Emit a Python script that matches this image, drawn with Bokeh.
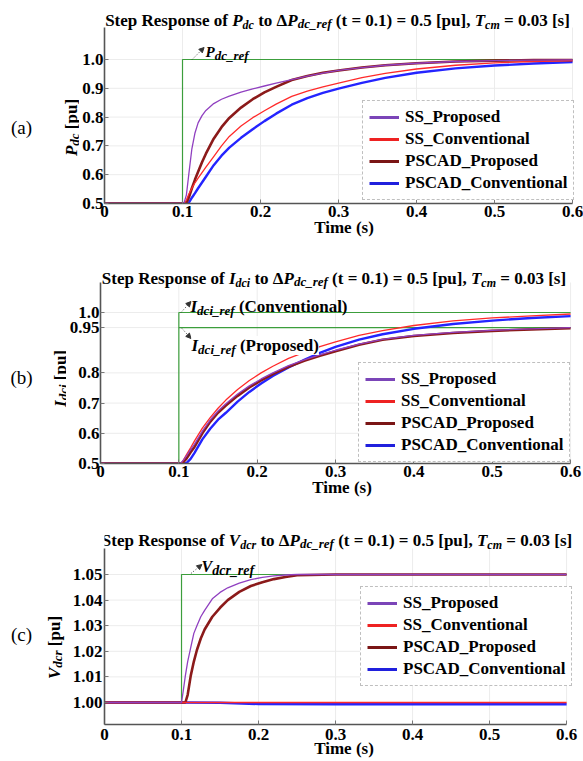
import math
from bokeh.plotting import figure
from bokeh.models import Label, Legend, LegendItem, FixedTicker, Arrow, NormalHead, Range1d
from bokeh.layouts import column, row
from bokeh.embed import file_html
from bokeh.resources import INLINE

# ---------------- data ----------------
series_names = ["SS_Proposed", "SS_Conventional", "PSCAD_Proposed", "PSCAD_Conventional"]
x_ticks = [0, 0.1, 0.2, 0.3, 0.4, 0.5, 0.6]
x_tick_labels = ["0", "0.1", "0.2", "0.3", "0.4", "0.5", "0.6"]

# (a) Pdc
a_y_ticks = [0.5, 0.6, 0.7, 0.8, 0.9, 1.0]
a_y_tick_labels = ["0.5", "0.6", "0.7", "0.8", "0.9", "1.0"]
a_ref_t = [0, 0.1, 0.1, 0.6]
a_ref_v = [0.5, 0.5, 1.0, 1.0]
a_t = [0, 0.1, 0.102, 0.105, 0.108, 0.112, 0.116, 0.12, 0.125, 0.13, 0.14, 0.15, 0.16,
       0.175, 0.19, 0.205, 0.22, 0.24, 0.26, 0.28, 0.30, 0.33, 0.36, 0.40, 0.45, 0.50, 0.55, 0.60]
a_ss_prop = [0.5, 0.5, 0.502, 0.53, 0.60, 0.69, 0.745, 0.78, 0.805, 0.823, 0.847, 0.862, 0.873,
             0.887, 0.898, 0.908, 0.918, 0.93, 0.942, 0.953, 0.962, 0.972, 0.98, 0.987, 0.993, 0.996, 0.998, 0.999]
a_ss_conv = [0.5, 0.5, 0.5, 0.512, 0.532, 0.553, 0.572, 0.588, 0.607, 0.626, 0.663, 0.700, 0.733,
             0.769, 0.798, 0.822, 0.845, 0.872, 0.89, 0.905, 0.918, 0.937, 0.952, 0.967, 0.98, 0.988, 0.993, 0.996]
a_pscad_prop = [0.5, 0.5, 0.5, 0.502, 0.52, 0.553, 0.583, 0.61, 0.643, 0.673, 0.725, 0.765, 0.797,
                0.833, 0.862, 0.886, 0.905, 0.929, 0.943, 0.954, 0.962, 0.972, 0.98, 0.987, 0.993, 0.996, 0.998, 0.998]
a_pscad_conv = [0.5, 0.5, 0.5, 0.5, 0.502, 0.52, 0.536, 0.553, 0.573, 0.593, 0.633, 0.666, 0.694,
                0.728, 0.758, 0.786, 0.812, 0.843, 0.866, 0.884, 0.899, 0.919, 0.936, 0.954, 0.969, 0.979, 0.986, 0.991]

# (b) Idci
b_y_ticks = [0.5, 0.6, 0.7, 0.8, 0.95, 1.0]
b_y_tick_labels = ["0.5", "0.6", "0.7", "0.8", "0.95", "1.0"]
b_ref_conv_t = [0, 0.1, 0.1, 0.6]
b_ref_conv_v = [0.5, 0.5, 1.0, 1.0]
b_ref_prop_t = [0.1, 0.6]
b_ref_prop_v = [0.95, 0.95]
b_t = [0, 0.1, 0.103, 0.106, 0.11, 0.115, 0.12, 0.13, 0.14, 0.15, 0.16, 0.175, 0.19, 0.205, 0.22,
       0.24, 0.26, 0.28, 0.30, 0.33, 0.36, 0.40, 0.45, 0.50, 0.55, 0.60]
b_ss_prop = [0.5, 0.5, 0.503, 0.512, 0.526, 0.546, 0.564, 0.607, 0.644, 0.674, 0.698, 0.73, 0.757, 0.78, 0.8,
             0.824, 0.843, 0.86, 0.875, 0.895, 0.911, 0.924, 0.934, 0.941, 0.946, 0.95]
b_ss_conv = [0.5, 0.5, 0.5, 0.512, 0.53, 0.552, 0.575, 0.617, 0.652, 0.683, 0.71, 0.745, 0.775, 0.80, 0.822,
             0.848, 0.868, 0.887, 0.903, 0.924, 0.94, 0.957, 0.972, 0.982, 0.989, 0.995]
b_pscad_prop = [0.5, 0.5, 0.5, 0.505, 0.517, 0.537, 0.555, 0.6, 0.638, 0.668, 0.692, 0.724, 0.752, 0.775, 0.796,
                0.82, 0.84, 0.857, 0.872, 0.893, 0.91, 0.922, 0.932, 0.939, 0.944, 0.948]
b_pscad_conv = [0.5, 0.5, 0.5, 0.5, 0.502, 0.515, 0.535, 0.58, 0.615, 0.645, 0.668, 0.705, 0.737, 0.765, 0.79,
                0.818, 0.843, 0.866, 0.886, 0.91, 0.928, 0.946, 0.962, 0.973, 0.982, 0.988]

# (c) Vdcr
c_y_ticks = [1.00, 1.01, 1.02, 1.03, 1.04, 1.05]
c_y_tick_labels = ["1.00", "1.01", "1.02", "1.03", "1.04", "1.05"]
c_ref_t = [0, 0.1, 0.1, 0.6]
c_ref_v = [1.0, 1.0, 1.05, 1.05]
c_t = [0, 0.1, 0.102, 0.105, 0.108, 0.112, 0.116, 0.12, 0.125, 0.13, 0.14, 0.15, 0.16,
       0.175, 0.19, 0.205, 0.22, 0.235, 0.25, 0.3, 0.4, 0.5, 0.6]
c_ss_prop = [1.0, 1.0, 1.004, 1.0105, 1.016, 1.0215, 1.027, 1.030, 1.0335, 1.036, 1.0405, 1.043, 1.0448,
             1.0466, 1.048, 1.0489, 1.0495, 1.0498, 1.05, 1.05, 1.05, 1.05, 1.05]
c_pscad_prop = [1.0, 1.0, 1.0, 1.0, 1.003, 1.0105, 1.016, 1.0205, 1.025, 1.0285, 1.0335, 1.037, 1.040,
                1.0432, 1.0455, 1.047, 1.0482, 1.049, 1.0497, 1.05, 1.05, 1.05, 1.05]
c_conv_t = [0, 0.1, 0.15, 0.2, 0.3, 0.4, 0.5, 0.6]
c_ss_conv = [1.0, 1.0, 1.0, 1.0, 1.0, 1.0, 1.0, 1.0]
c_pscad_conv = [1.0, 1.0, 0.9999, 0.9994, 0.9993, 0.9993, 0.9993, 0.9993]

# ---------------- styling helpers ----------------
FONT = "Liberation Serif"
COL_REF = "#3c9e3c"
COL_LINE = {"SS_Proposed": "#9040c0", "SS_Conventional": "#ff2a2a",
            "PSCAD_Proposed": "#8b1a1a", "PSCAD_Conventional": "#2424ff"}
COL_LEG = {"SS_Proposed": "#7b45b8", "SS_Conventional": "#ee2222",
           "PSCAD_Proposed": "#7a1515", "PSCAD_Conventional": "#2020dd"}

WB = {' ': 250, '(': 333, ')': 333, ',': 250, '.': 250, '=': 570, '[': 333, ']': 333, '_': 500,
      'Δ': 630, 'S': 556, 'R': 722, 'T': 667, 'P': 611, 'C': 722, 'A': 722, 'D': 722, 'I': 389,
      'V': 722, 'a': 500, 'b': 556, 'c': 444, 'd': 556, 'e': 444, 'f': 333, 'g': 500, 'h': 556,
      'i': 278, 'j': 333, 'k': 556, 'l': 278, 'm': 833, 'n': 556, 'o': 500, 'p': 556, 'q': 556,
      'r': 444, 's': 389, 't': 333, 'u': 556, 'v': 500, 'w': 722, 'x': 500, 'y': 500, 'z': 444}
for _d in "0123456789":
    WB[_d] = 500
WBI = {' ': 250, 'P': 611, 'T': 611, 'I': 389, 'V': 667, 'd': 500, 'c': 444, 'r': 389, 'e': 444,
       'f': 333, '_': 500, 'i': 278, 'm': 778}


def text_w(s, size, style):
    tab = WBI if "italic" in style else WB
    return sum(tab.get(ch, 500) for ch in s) * size / 1000.0


def add_rich(p, org, x, y, segs, rotate=False, center=False, bg=None):
    """x, y in page pixels; org = (page x, page y) of the figure's canvas origin."""
    ox, oy = org
    total = sum(text_w(t, sz, st) for t, sz, st, d in segs)
    if not rotate:
        pos = x - total / 2 if center else x
    else:
        pos = y + total / 2 if center else y
    for t, sz, st, d in segs:
        w = text_w(t, sz, st)
        stripped = t.lstrip(" ")
        lead = text_w(t[:len(t) - len(stripped)], sz, st)
        txt = stripped.rstrip(" ")
        if txt:
            if not rotate:
                lx, ly = pos + lead, y + d
            else:
                lx, ly = x + d, pos - lead
            lab = Label(x=lx - ox, y=ly - oy, x_units="canvas", y_units="canvas", text=txt,
                        text_font=FONT, text_font_size=f"{sz}px", text_font_style=st,
                        text_color="black", text_align="left", text_baseline="alphabetic",
                        angle=(math.pi / 2 if rotate else 0.0))
            if bg:
                lab.background_fill_color = bg
            p.add_layout(lab)
        pos = pos + w if not rotate else pos - w


def title_segs(sym, sub):
    return [("Step Response of ", 17, "bold", 0), (sym, 17, "bold italic", 0), (sub, 12, "bold italic", 4),
            (" to Δ", 17, "bold", 0), ("P", 17, "bold italic", 0), ("dc_ref", 13, "bold italic", 3),
            (" (t = 0.1) = 0.5 [pu], ", 17, "bold", 0), ("T", 17, "bold italic", 0),
            ("cm", 12, "bold italic", 4), (" = 0.03 [s]", 17, "bold", 0)]


def make_strip(spec, tag, tag_y, ylab_x, ylab_y, ylab_segs):
    w, h = spec["strip"], spec["h"]
    s = figure(width=w, height=h, x_range=Range1d(0, w), y_range=Range1d(h, 0),
               output_backend="svg", toolbar_location=None, title=None,
               x_axis_location=None, y_axis_location=None,
               min_border_left=0, min_border_right=0, min_border_top=0, min_border_bottom=0)
    s.outline_line_color = None
    s.grid.visible = False
    s.background_fill_color = "white"
    s.border_fill_color = "white"
    org = (0, spec["top"])
    s.add_layout(Label(x=21, y=tag_y - spec["top"], x_units="canvas", y_units="canvas", text=tag,
                       text_font=FONT, text_font_size="19px", text_font_style="normal",
                       text_color="black", text_align="center", text_baseline="middle"))
    add_rich(s, org, ylab_x, ylab_y, ylab_segs, rotate=True, center=True)
    return s


def make_panel(spec, yticks, ylabels):
    top, h, L, fr, fb, sw = spec["top"], spec["h"], spec["L"], spec["fr"], spec["fb"], spec["strip"]
    per_x = (fr - L) / 0.6
    x_end = 0.6 + (583 - fr) / per_x
    y_end = spec["ybot"] + (fb - top) / spec["yper"]
    p = figure(width=583 - sw, height=h, x_range=Range1d(0, x_end), y_range=Range1d(spec["ybot"], y_end),
               output_backend="svg", toolbar_location=None, title=None,
               min_border_left=L - sw, min_border_right=0,
               min_border_top=0, min_border_bottom=top + h - fb)
    p.outline_line_color = None
    p.background_fill_color = "white"
    p.border_fill_color = "white"
    p.grid.visible = False
    # faint grid lines inside the axes box
    gx = [t for t in x_ticks if t > 0]
    gy = [v for v in yticks if v > yticks[0]]
    p.segment(x0=gx, y0=[spec["ybot"]] * len(gx), x1=gx, y1=[spec["ytop"]] * len(gx),
              line_color="#ececec", line_width=1)
    p.segment(x0=[0] * len(gy), y0=gy, x1=[0.6] * len(gy), y1=gy, line_color="#ececec", line_width=1)
    for ax in (p.xaxis[0], p.yaxis[0]):
        ax.axis_line_color = "#555555"
        ax.axis_line_width = 1.6
        ax.major_tick_in = 4
        ax.major_tick_out = 0
        ax.minor_tick_line_color = None
        ax.major_tick_line_color = "#777777"
        ax.major_label_text_font = FONT
        ax.major_label_text_font_size = "17px"
        ax.major_label_text_font_style = "bold"
        ax.major_label_text_color = "black"
    xa, ya = p.xaxis[0], p.yaxis[0]
    xa.bounds = (0, 0.6)
    ya.bounds = (spec["ybot"], spec["ytop"])
    xa.ticker = FixedTicker(ticks=x_ticks)
    xa.major_label_overrides = {t: l for t, l in zip(x_ticks, x_tick_labels)}
    xa.major_label_standoff = spec["xstand"]
    xa.axis_label = "Time (s)"
    xa.axis_label_text_font = FONT
    xa.axis_label_text_font_size = "17px"
    xa.axis_label_text_font_style = "bold"
    xa.axis_label_text_color = "black"
    xa.axis_label_standoff = spec["lstand"]
    ya.ticker = FixedTicker(ticks=yticks)
    ya.major_label_overrides = {t: l for t, l in zip(yticks, ylabels)}
    ya.major_label_standoff = spec["ystand"]
    return p


def to_data(spec, px, py):
    per_x = (spec["fr"] - spec["L"]) / 0.6
    return (px - spec["L"]) / per_x, spec["ybot"] + (spec["fb"] - py) / spec["yper"]


def add_arrow(p, spec, x0, y0, x1, y1):
    xs, ys = to_data(spec, x0, y0)
    xe, ye = to_data(spec, x1, y1)
    p.add_layout(Arrow(end=NormalHead(size=5, fill_color="#333333", line_color="#333333", line_width=1),
                       x_start=xs, y_start=ys, x_end=xe, y_end=ye,
                       line_color="#333333", line_width=1, line_dash="1 2"))


def add_legend(p, loc):
    items = []
    for name in series_names:
        r = p.line(x=[float("nan")], y=[float("nan")], line_color=COL_LEG[name], line_width=3)
        items.append(LegendItem(label=name, renderers=[r]))
    leg = Legend(items=items, location=loc, margin=0, padding=6, spacing=2,
                 glyph_width=30, glyph_height=20, label_height=20, label_standoff=6,
                 label_text_font=FONT, label_text_font_size="17px", label_text_font_style="bold",
                 label_text_color="black", border_line_color="#808080", border_line_dash="4 3",
                 border_line_width=1, background_fill_color="white", background_fill_alpha=1.0)
    p.add_layout(leg)


def draw_curves(p, t_prop_ss, prop_ss, t_conv_ss, conv_ss, t_prop_ps, prop_ps, t_conv_ps, conv_ps):
    p.line(t_conv_ps, conv_ps, line_color=COL_LINE["PSCAD_Conventional"], line_width=2.4)
    p.line(t_prop_ps, prop_ps, line_color=COL_LINE["PSCAD_Proposed"], line_width=2.6)
    p.line(t_conv_ss, conv_ss, line_color=COL_LINE["SS_Conventional"], line_width=1.3)
    p.line(t_prop_ss, prop_ss, line_color=COL_LINE["SS_Proposed"], line_width=1.3)


# ---------------- panel (a) ----------------
A = dict(top=0, h=250, strip=79, L=102, fr=572, fb=203, ybot=0.5, yper=288, ytop=1.111,
         xstand=2, lstand=-2, ystand=1)
sa = make_strip(A, "(a)", 127, 71, 127,
                [("P", 17, "bold italic", 0), ("dc", 13, "bold italic", 3), (" [pu]", 17, "bold", 0)])
pa = make_panel(A, a_y_ticks, a_y_tick_labels)
oa = (A["strip"], A["top"])
pa.line(a_ref_t, a_ref_v, line_color=COL_REF, line_width=1.2)
draw_curves(pa, a_t, a_ss_prop, a_t, a_ss_conv, a_t, a_pscad_prop, a_t, a_pscad_conv)
add_legend(pa, (258, 3))
add_rich(pa, oa, (A["L"] + A["fr"]) / 2, 20, title_segs("P", "dc"), center=True)
add_arrow(pa, A, 190, 59, 202, 47)
add_rich(pa, oa, 205, 51, [("P", 15, "bold italic", 0), ("dc_ref", 13, "bold italic", 4)])

# ---------------- panel (b) ----------------
B = dict(top=250, h=255, strip=66, L=97, fr=570, fb=463, ybot=0.5, yper=302, ytop=1.0993,
         xstand=2, lstand=-2, ystand=1)
sb = make_strip(B, "(b)", 377, 60, 378,
                [("I", 17, "bold italic", 0), ("dci", 13, "bold italic", 3), (" [pu]", 17, "bold", 0)])
pb = make_panel(B, b_y_ticks, b_y_tick_labels)
ob = (B["strip"], B["top"])
pb.line(b_ref_conv_t, b_ref_conv_v, line_color=COL_REF, line_width=1.2)
pb.line(b_ref_prop_t, b_ref_prop_v, line_color=COL_REF, line_width=1.2)
draw_curves(pb, b_t, b_ss_prop, b_t, b_ss_conv, b_t, b_pscad_prop, b_t, b_pscad_conv)
add_legend(pb, (258, 1))
add_rich(pb, ob, (B["L"] + B["fr"]) / 2, 278, title_segs("I", "dci"), center=True)
add_arrow(pb, B, 178, 312, 188, 301)
add_rich(pb, ob, 190, 306, [("I", 17, "bold italic", 0), ("dci_ref", 13, "bold italic", 4),
                            (" (Conventional)", 17, "bold", 0)])
add_arrow(pb, B, 179, 328, 188, 338)
add_rich(pb, ob, 191, 345, [("I", 17, "bold italic", 0), ("dci_ref", 13, "bold italic", 4),
                            (" (Proposed)", 17, "bold", 0)], bg="white")

# ---------------- panel (c) ----------------
C = dict(top=505, h=256, strip=69, L=101, fr=566, fb=724, ybot=1.0 - 22 / 2560, yper=2560, ytop=1.06016,
         xstand=4, lstand=-4, ystand=2)
sc = make_strip(C, "(c)", 634, 54, 647,
                [("V", 17, "bold italic", 0), ("dcr", 13, "bold italic", 3), (" [pu]", 17, "bold", 0)])
pc = make_panel(C, c_y_ticks, c_y_tick_labels)
oc = (C["strip"], C["top"])
pc.line(c_ref_t, c_ref_v, line_color=COL_REF, line_width=1.2)
draw_curves(pc, c_t, c_ss_prop, c_conv_t, c_ss_conv, c_t, c_pscad_prop, c_conv_t, c_pscad_conv)
add_legend(pc, (256, 38))
add_rich(pc, oc, 336.5, 540, title_segs("V", "dcr"), center=True)
add_arrow(pc, C, 188, 573, 199, 564)
add_rich(pc, oc, 201, 566, [("V", 16, "bold italic", 0), ("dcr_ref", 14, "bold italic", 4)])

layout = column(row(sa, pa, spacing=0), row(sb, pb, spacing=0), row(sc, pc, spacing=0), spacing=0)
open("out.html", "w").write(file_html(layout, INLINE))
